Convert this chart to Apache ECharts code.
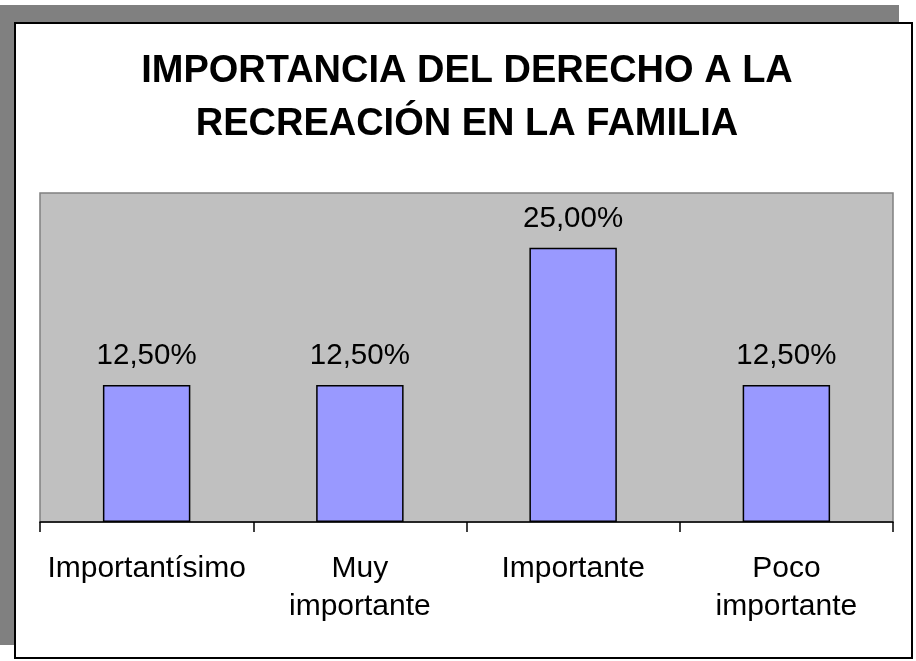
<!DOCTYPE html>
<html>
<head>
<meta charset="utf-8">
<style>
  html, body { margin: 0; padding: 0; background: #fff; }
  #chart { width: 916px; height: 661px; }
</style>
<script src="https://cdn.jsdelivr.net/npm/echarts@6/dist/echarts.min.js"></script>
</head>
<body>
<div id="chart"></div>
<script>
var titleText = 'IMPORTANCIA DEL DERECHO A LA\nRECREACIÓN EN LA FAMILIA';
var categories = ['Importantísimo', 'Muy\nimportante', 'Importante', 'Poco\nimportante'];
var values = [12.5, 12.5, 25.0, 12.5];

var chart = echarts.init(document.getElementById('chart'));

// etiqueta con coma decimal
function pct(v) {
    return v.toFixed(2).replace('.', ',') + '%';
}

var option = {
    animation: false,
    backgroundColor: '#fff',
    textStyle: { fontFamily: 'Liberation Sans, Arial, sans-serif' },
    graphic: [
        // sombra gris del marco
        {
            type: 'rect', z: -10, silent: true,
            shape: { x: 0, y: 5, width: 899, height: 640 },
            style: { fill: '#808080' }
        },
        // marco blanco con borde negro
        {
            type: 'rect', z: -9, silent: true,
            shape: { x: 15, y: 23, width: 897, height: 635 },
            style: { fill: '#fff', stroke: '#000', lineWidth: 2 }
        }
    ],
    title: {
        text: titleText,
        left: 467,
        top: 45,
        padding: 0,
        textAlign: 'center',
        textStyle: {
            fontSize: 38,
            fontWeight: 'bold',
            color: '#000',
            lineHeight: 53,
            fontFamily: 'Liberation Sans, Arial, sans-serif'
        }
    },
    grid: {
        left: 40, right: 23, top: 193, bottom: 139,
        show: true,
        backgroundColor: '#C0C0C0',
        borderColor: '#808080',
        borderWidth: 1.5
    },
    xAxis: {
        type: 'category',
        data: categories,
        boundaryGap: true,
        axisLine: { lineStyle: { color: '#000', width: 1.5 } },
        axisTick: { show: true, length: 10, lineStyle: { color: '#000', width: 1.5 } },
        axisLabel: {
            color: '#000',
            fontSize: 30,
            lineHeight: 38,
            margin: 28,
            interval: 0
        }
    },
    yAxis: {
        type: 'value',
        min: 0, max: 30,
        show: false,
        splitLine: { show: false }
    },
    series: [{
        type: 'bar',
        data: values,
        barWidth: '41%',
        itemStyle: { color: '#9999FF', borderColor: '#000', borderWidth: 1.5 },
        label: {
            show: true,
            position: 'top',
            distance: 14,
            color: '#000',
            fontSize: 29.5,
            formatter: function(p) { return pct(p.value); }
        }
    }]
};

chart.setOption(option);
</script>
</body>
</html>
